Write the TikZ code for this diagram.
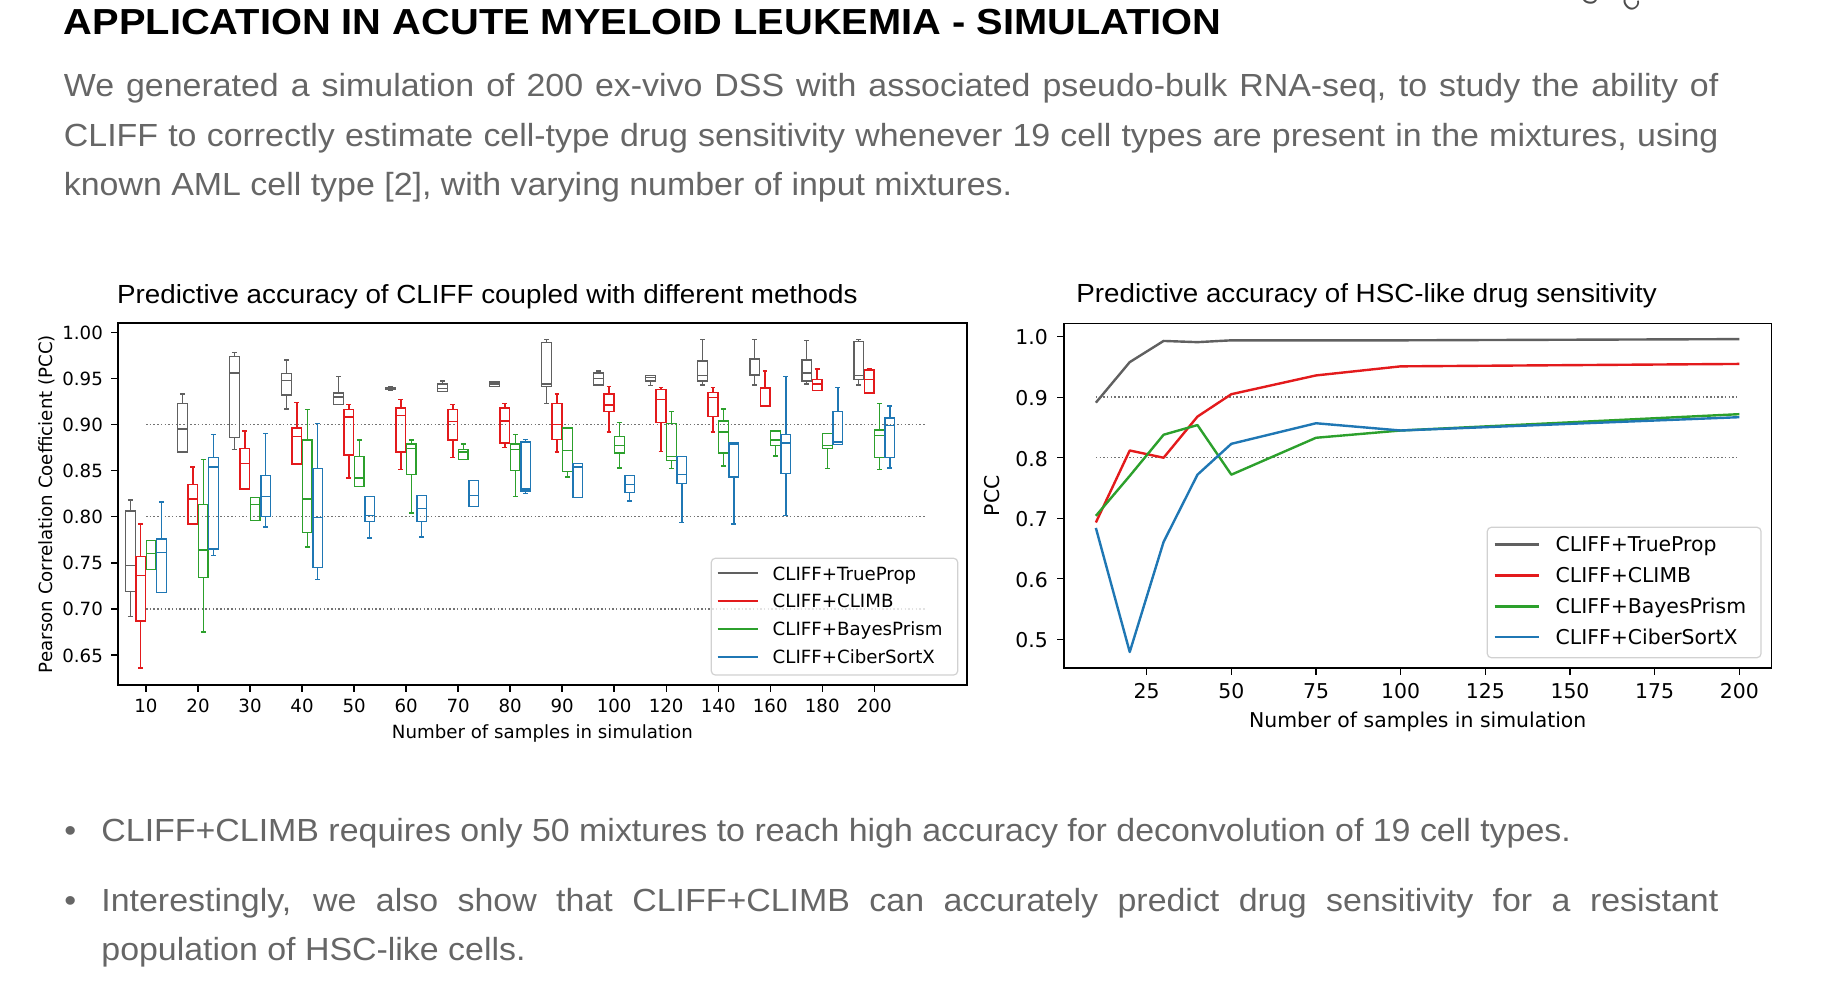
\documentclass[tikz,border=0pt]{standalone}
\usepackage{fontspec}
\setmainfont{Liberation Sans}
\newfontfamily\headfont[FakeStretch=1.1]{Liberation Sans}
\newfontfamily\bodyfont[FakeStretch=1.06]{Liberation Sans}
\newfontfamily\mplfont{DejaVu Sans}

\definecolor{trueprop}{HTML}{606060}
\definecolor{climb}{HTML}{E31A1C}
\definecolor{bayes}{HTML}{2CA02C}
\definecolor{ciber}{HTML}{1F77B4}
\definecolor{txtgray}{HTML}{666666}

\tikzset{
	headtext/.style={anchor=base west, inner sep=0pt, font=\headfont\bfseries\fontsize{18.1}{22}\selectfont},
	bodytext/.style={anchor=base west, inner sep=0pt, text=txtgray, font=\bodyfont\fontsize{16}{19}\selectfont},
	plottitle/.style={anchor=base west, inner sep=0pt, font=\bodyfont\fontsize{13.1}{15}\selectfont},
	labL/.style={inner sep=0pt, font=\mplfont\fontsize{9.1}{11}\selectfont},
	labR/.style={inner sep=0pt, font=\mplfont\fontsize{10.2}{12}\selectfont},
	frame/.style={line width=0.8pt},
	tickmark/.style={line width=0.7pt},
	refline/.style={black!55, line width=0.75pt, dash pattern=on 0.75pt off 1.1pt},
	boxline/.style={line width=0.7pt},
	curve/.style={line width=1.2pt, line join=round},
	legendbox/.style={draw=black!18, fill=white, fill opacity=0.8, rounded corners=2pt, line width=0.6pt}
}

% one box: position, offset, low, q1, median, q3, high
\newcommand{\drawbox}[7]{%
	\pgfmathsetmacro\bc{#1+#2}
	\draw (\bc,#3) -- (\bc,#4) (\bc,#6) -- (\bc,#7)
		(\bc-0.047,#3) -- (\bc+0.047,#3) (\bc-0.047,#7) -- (\bc+0.047,#7)
		(\bc-0.093,#4) rectangle (\bc+0.093,#6)
		(\bc-0.093,#5) -- (\bc+0.093,#5);}

\begin{document}
\begin{tikzpicture}[x=0.5pt,y=-0.5pt]

	\useasboundingbox (0,0) rectangle (1827,984);

	%Heading
	\node[headtext] (head) at (63.5,35) {APPLICATION IN ACUTE MYELOID LEUKEMIA - SIMULATION};
	\node[text=black!70, font=\fontsize{11}{13}\selectfont, rotate=80] (frag1) at (1590,-3) {C};
	\node[text=black!70, font=\fontsize{11}{13}\selectfont, rotate=40] (frag2) at (1631,3) {C};

	%Intro
	\node[bodytext] (intro1) at (63.5,96.7) {\makebox[827.3pt][s]{We generated a simulation of 200 ex-vivo DSS with associated pseudo-bulk RNA-seq, to study the ability of}};
	\node[bodytext] (intro2) at (63.5,146.5) {\makebox[827.3pt][s]{CLIFF to correctly estimate cell-type drug sensitivity whenever 19 cell types are present in the mixtures, using}};
	\node[bodytext] (intro3) at (63.5,196) {known AML cell type [2], with varying number of input mixtures.};

	%Left plot
	\node[plottitle] (titleL) at (116.7,303.5) {Predictive accuracy of CLIFF coupled with different methods};
	\begin{scope}[shift={(73pt,-627.15pt)}, x=26.01pt, y=461pt]
		\foreach \v in {0.7,0.8,0.9}
			\draw[refline] (0,\v) -- (15,\v);

		%TrueProp
		\begin{scope}[trueprop, boxline]
		\foreach \p/\lo/\qa/\md/\qb/\hi in {0/.692/.719/.747/.806/.818, 1/.870/.870/.895/.923/.933,
			2/.873/.886/.956/.974/.978, 3/.917/.932/.948/.955/.970, 4/.922/.922/.930/.934/.952,
			5/.937/.938/.939/.940/.941, 6/.936/.936/.939/.944/.947, 7/.941/.941/.944/.946/.946,
			8/.923/.941/.944/.989/.992, 9/.942/.943/.950/.956/.958, 10/.942/.947/.951/.953/.953,
			11/.943/.947/.953/.969/.992, 12/.943/.953/.954/.971/.992, 13/.944/.947/.956/.970/.991,
			14/.943/.949/.953/.990/.992}
			\drawbox{\p}{-0.3}{\lo}{\qa}{\md}{\qb}{\hi};
		\end{scope}

		%CLIMB
		\begin{scope}[climb, boxline]
		\foreach \p/\lo/\qa/\md/\qb/\hi in {0/.636/.687/.736/.757/.792, 1/.792/.792/.819/.835/.854,
			2/.830/.830/.858/.874/.893, 3/.857/.857/.887/.896/.924, 4/.842/.867/.908/.916/.922,
			5/.851/.870/.910/.918/.927, 6/.864/.883/.903/.916/.922, 7/.875/.880/.904/.918/.923,
			8/.870/.884/.900/.923/.933, 9/.892/.914/.921/.933/.941, 10/.871/.902/.927/.938/.940,
			11/.892/.909/.929/.935/.940, 12/.920/.920/.939/.940/.958, 13/.937/.937/.944/.949/.960,
			14/.934/.934/.949/.959/.961}
			\drawbox{\p}{-0.1}{\lo}{\qa}{\md}{\qb}{\hi};
		\end{scope}

		%BayesPrism
		\begin{scope}[bayes, boxline]
		\foreach \p/\lo/\qa/\md/\qb/\hi in {0/.743/.743/.760/.774/.774, 1/.675/.734/.764/.813/.862,
			2/.796/.796/.813/.821/.821, 3/.767/.783/.819/.883/.916, 4/.833/.833/.842/.865/.883,
			5/.804/.846/.874/.879/.883, 6/.862/.862/.870/.873/.879, 7/.822/.850/.873/.879/.889,
			8/.843/.849/.872/.896/.896, 9/.853/.869/.877/.887/.902, 10/.852/.861/.865/.901/.914,
			11/.855/.869/.892/.904/.917, 12/.866/.877/.883/.893/.893, 13/.852/.874/.877/.890/.890,
			14/.851/.864/.888/.894/.923}
			\drawbox{\p}{0.1}{\lo}{\qa}{\md}{\qb}{\hi};
		\end{scope}

		%CiberSortX
		\begin{scope}[ciber, boxline]
		\foreach \p/\lo/\qa/\md/\qb/\hi in {0/.718/.718/.761/.776/.816, 1/.758/.765/.854/.864/.889,
			2/.789/.800/.822/.845/.890, 3/.732/.745/.799/.852/.901, 4/.777/.795/.801/.822/.822,
			5/.778/.795/.809/.823/.823, 6/.811/.811/.823/.839/.839, 7/.825/.828/.830/.881/.884,
			8/.821/.821/.854/.858/.858, 9/.817/.826/.835/.845/.845, 10/.794/.836/.846/.865/.865,
			11/.792/.843/.878/.880/.880, 12/.801/.847/.880/.889/.952, 13/.878/.878/.881/.914/.940,
			14/.853/.864/.899/.907/.920}
			\drawbox{\p}{0.3}{\lo}{\qa}{\md}{\qb}{\hi};
		\end{scope}

		%Axes
		\draw[frame] (-0.544,0.6175) rectangle (15.78,1.0104);
		\foreach \lab [count=\i from 0] in {10,20,30,40,50,60,70,80,90,100,120,140,160,180,200}{
			\draw[tickmark] (\i,0.6175) -- ++(0,-3.5pt);
			\node[labL, anchor=base, yshift=-13.85pt] (xL\i) at (\i,0.6175) {\lab};
		}
		\foreach \v/\lab [count=\i] in {0.65/0.65,0.70/0.70,0.75/0.75,0.80/0.80,0.85/0.85,0.90/0.90,0.95/0.95,1.00/1.00}{
			\draw[tickmark] (-0.544,\v) -- ++(-3.5pt,0);
			\node[labL, anchor=base east, xshift=-7.2pt, yshift=-3.5pt] (yL\i) at (-0.544,\v) {\lab};
		}
	\end{scope}
	\node[labL, anchor=base] (xlabL) at (542.4,738.3) {Number of samples in simulation};
	\node[labL, anchor=mid, rotate=90] (ylabL) at (46.8,504) {Pearson Correlation Coefficient (PCC)};

	%Left legend
	\draw[legendbox] (711.3,558.3) rectangle (957.7,675);
	\foreach \c/\name/\yy [count=\i] in {trueprop/TrueProp/573.3, climb/CLIMB/601, bayes/BayesPrism/629, ciber/CiberSortX/656.7}{
		\draw[\c, line width=0.85pt] (717.7,\yy) -- (758.3,\yy);
		\node[labL, anchor=base west, yshift=-3.35pt] (legL\i) at (772.3,\yy) {CLIFF+\name};
	}

	%Right plot
	\node[plottitle] (titleR) at (1076,302.3) {Predictive accuracy of HSC-like drug sensitivity};
	\begin{scope}[shift={(531pt,-470.95pt)}, x=1.6933pt, y=302.6pt]
		\foreach \v in {0.8,0.9}
			\draw[refline] (10,\v) -- (200,\v);

		\draw[curve, trueprop] plot coordinates {(10,0.891) (20,0.958) (30,0.993) (40,0.991) (50,0.994) (75,0.994) (100,0.994) (200,0.996)};
		\draw[curve, climb] plot coordinates {(10,0.693) (20,0.812) (30,0.800) (40,0.868) (50,0.905) (75,0.936) (100,0.951) (200,0.955)};
		\draw[curve, bayes] plot coordinates {(10,0.704) (20,0.770) (30,0.838) (40,0.854) (50,0.772) (75,0.833) (100,0.845) (200,0.872)};
		\draw[curve, ciber] plot coordinates {(10,0.684) (20,0.479) (30,0.661) (40,0.772) (50,0.823) (75,0.857) (100,0.845) (200,0.867)};

		%Axes
		\draw[frame] (0.5,0.4521) rectangle (209.5,1.0221);
		\foreach \n in {25,50,...,200}{
			\draw[tickmark] (\n,0.4521) -- ++(0,-3.5pt);
			\node[labR, anchor=base, yshift=-15.35pt] (xR\n) at (\n,0.4521) {\n};
		}
		\foreach \v/\lab [count=\i] in {0.5/0.5,0.6/0.6,0.7/0.7,0.8/0.8,0.9/0.9,1.0/1.0}{
			\draw[tickmark] (0.5,\v) -- ++(-3.5pt,0);
			\node[labR, anchor=base east, xshift=-7.7pt, yshift=-4.15pt] (yR\i) at (0.5,\v) {\lab};
		}
	\end{scope}
	\node[labR, anchor=base] (xlabR) at (1417.7,727.3) {Number of samples in simulation};
	\node[labR, anchor=mid, rotate=90] (ylabR) at (994.5,495.8) {PCC};

	%Right legend
	\draw[legendbox] (1487.3,527.3) rectangle (1761,657.7);
	\foreach \c/\name/\yy [count=\i] in {trueprop/TrueProp/544.3, climb/CLIMB/575.3, bayes/BayesPrism/606.3, ciber/CiberSortX/637}{
		\draw[\c, line width=1.2pt] (1494.7,\yy) -- (1539.3,\yy);
		\node[labR, anchor=base west, yshift=-3.75pt] (legR\i) at (1555.3,\yy) {CLIFF+\name};
	}

	%Bullets
	\node[bodytext] (dot1) at (64,841.7) {\textbullet};
	\node[bodytext] (bul1) at (101,841.7) {CLIFF+CLIMB requires only 50 mixtures to reach high accuracy for deconvolution of 19 cell types.};
	\node[bodytext] (dot2) at (64,911.7) {\textbullet};
	\node[bodytext] (bul2) at (101,911.7) {\makebox[808.5pt][s]{Interestingly, we also show that CLIFF+CLIMB can accurately predict drug sensitivity for a resistant}};
	\node[bodytext] (bul3) at (101,960.2) {population of HSC-like cells.};

\end{tikzpicture}
\end{document}
